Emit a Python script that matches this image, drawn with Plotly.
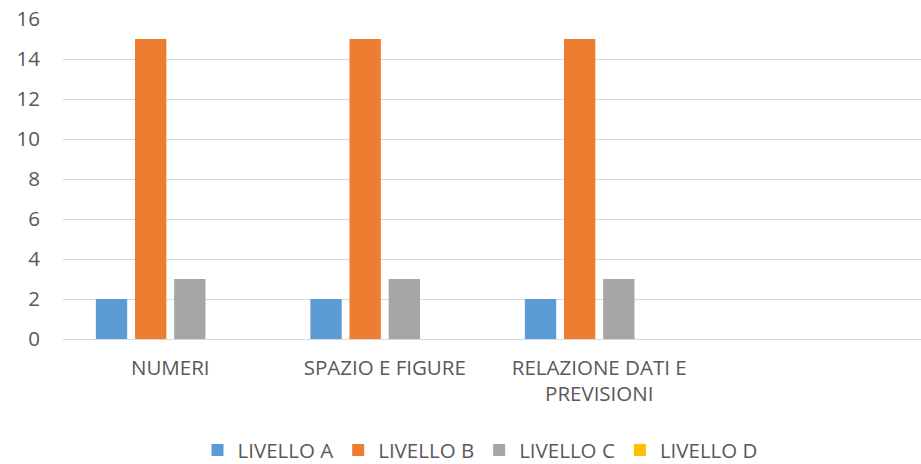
import plotly.graph_objects as go

categories = ["NUMERI", "SPAZIO E FIGURE", "RELAZIONE DATI E<br>PREVISIONI", ""]
series_names = ["LIVELLO A", "LIVELLO B", "LIVELLO C", "LIVELLO D"]
livello_a = [2, 2, 2, None]
livello_b = [15, 15, 15, None]
livello_c = [3, 3, 3, None]
livello_d = [0, 0, 0, None]
colors = ["#5B9BD5", "#ED7D31", "#A5A5A5", "#FFC000"]
y_ticks = [0, 2, 4, 6, 8, 10, 12, 14, 16]

x_keys = ["c0", "c1", "c2", "c3"]
fig = go.Figure()
for name, vals, col in zip(series_names, [livello_a, livello_b, livello_c, livello_d], colors):
    fig.add_trace(go.Bar(x=x_keys, y=vals, name=name, marker=dict(color=col, line=dict(width=0))))

font = "Open Sans, Segoe UI, sans-serif"
fs = 20.5
fig.update_layout(
    width=921, height=464,
    margin=dict(l=63, r=0, t=19, b=125, autoexpand=False),
    paper_bgcolor="white", plot_bgcolor="white",
    barmode="group", bargap=0.27, bargroupgap=0.2,
    font=dict(family=font, size=fs, color="#595959"),
    legend=dict(orientation="h", x=0.486, xanchor="center", yref="container", y=0.03, yanchor="middle",
                font=dict(size=fs, color="#595959"), itemwidth=30, tracegroupgap=0),
    showlegend=True,
)
fig.update_xaxes(type="category", tickvals=x_keys, ticktext=categories, showgrid=False,
                 showline=False, ticks="", automargin=False, ticklabelstandoff=14,
                 tickfont=dict(size=fs, color="#595959"))
fig.update_yaxes(range=[0, 16], tickvals=y_ticks, showgrid=True, gridcolor="#D9D9D9", gridwidth=1,
                 zeroline=True, zerolinecolor="#D9D9D9", zerolinewidth=1, automargin=False,
                 showline=False, ticks="", tickfont=dict(size=fs, color="#595959"), ticklabelstandoff=22)
fig.write_html("out.html", config={"displayModeBar": False},
               post_script="document.body.style.margin='0';document.body.style.overflow='hidden';")
